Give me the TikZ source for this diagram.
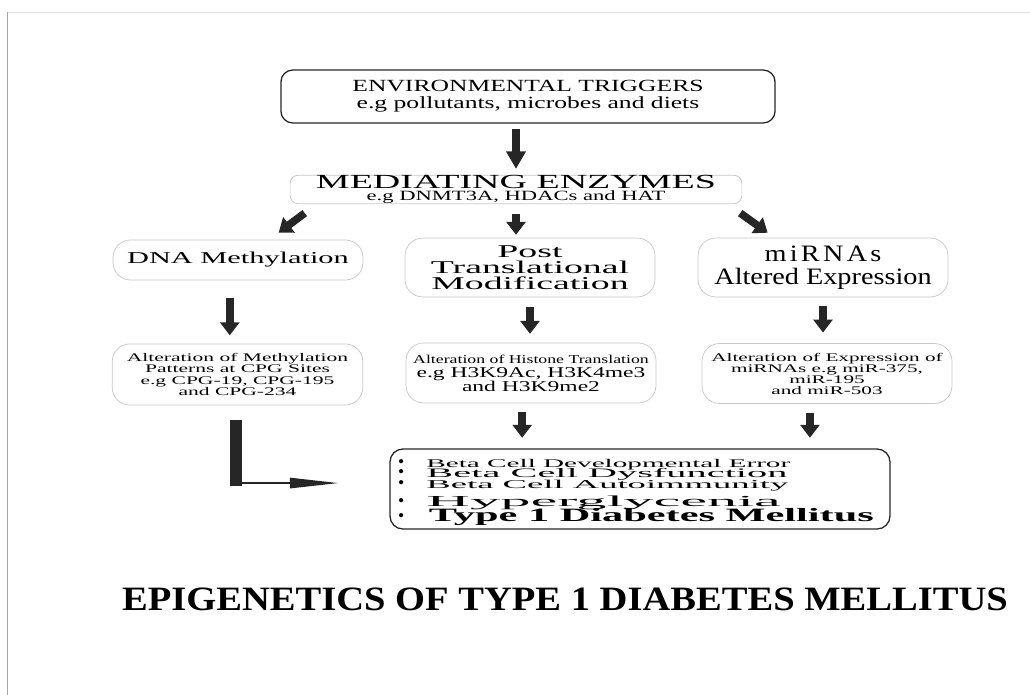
\documentclass[tikz,border=0pt]{standalone}
\usepackage{fontspec}
\setmainfont{Liberation Serif}
\usetikzlibrary{arrows.meta}
\newcommand{\wider}[1]{\addfontfeatures{FakeStretch=#1}}
\newcommand{\itemdot}{\makebox[24pt][l]{\fontsize{15}{10}\selectfont\mdseries\textbullet}}

\tikzset{
    softbox/.style={draw=black!22, line width=0.6pt, rounded corners=15pt, inner sep=0pt, align=center},
    hardbox/.style={draw=black!85, line width=1.1pt, rounded corners=10pt, inner sep=0pt, align=center},
    fatarrow/.style={draw=black!85, line width=6.5pt, -{Triangle[width=16pt,length=11pt]}},
    bullitem/.style={anchor=base west, inner sep=0pt},
}

\begin{document}
\begin{tikzpicture}[x=0.85pt, y=-0.85pt]
    \useasboundingbox (0,0) rectangle (1030,695);
    % page edge
    \draw[black!12, line width=0.6pt] (7,12) -- (1030,12);
    \draw[black!35, line width=0.8pt] (7,695) -- (7,12);

    % boxes
    \node[hardbox, minimum width=420pt, minimum height=45pt, font=\fontsize{14.5}{14.5}\selectfont\wider{1.5}] (env) at (528,96.5)
        {ENVIRONMENTAL TRIGGERS\\e.g pollutants, microbes and diets};
    \node[softbox, minimum width=384pt, minimum height=23.8pt, rounded corners=7pt, font=\fontsize{12}{10.5}\selectfont\wider{1.6}] (enzymes) at (516,189.5)
        {{\fontsize{17}{17}\selectfont\wider{1.9}MEDIATING ENZYMES}\\e.g DNMT3A, HDACs and HAT};
    \node[softbox, minimum width=212.5pt, minimum height=34pt, font=\fontsize{14.1}{15}\selectfont\wider{1.83}] (dna) at (238,260)
        {DNA Methylation};
    \node[softbox, minimum width=212.5pt, minimum height=50pt, font=\fontsize{15.3}{13.6}\selectfont\wider{2.1}] (ptm) at (530,267.5)
        {Post\\Translational\\Modification};
    \node[softbox, minimum width=212.5pt, minimum height=50pt, font=\fontsize{20}{19.5}\selectfont\wider{1.2}] (mirna) at (823,267.5)
        {{\addfontfeatures{LetterSpace=14}miRNAs}\\Altered Expression};
    \node[softbox, minimum width=213pt, minimum height=52pt, font=\fontsize{9.9}{9.6}\selectfont\wider{1.85}] (cpg) at (237.5,374.5)
        {Alteration of Methylation\\Patterns at CPG Sites\\e.g CPG-19, CPG-195\\and CPG-234};
    \node[softbox, minimum width=212.5pt, minimum height=51pt, font=\fontsize{12.75}{11.8}\selectfont\wider{1.57}] (histone) at (531,373)
        {{\fontsize{10.2}{11.8}\selectfont\wider{1.48}Alteration of Histone Translation}\\e.g H3K9Ac, H3K4me3\\and H3K9me2};
    \node[softbox, minimum width=212.5pt, minimum height=51pt, font=\fontsize{9.9}{9.35}\selectfont\wider{1.82}] (expression) at (827,373.5)
        {Alteration of Expression of\\miRNAs e.g miR-375,\\miR-195\\and miR-503};
    \node[hardbox, minimum width=425pt, minimum height=68pt, rounded corners=11pt] (summary) at (640,489) {};

    % summary lines
    \node[bullitem, font=\fontsize{10}{10}\selectfont] (itemA) at (398,467)
        {\itemdot{\wider{2.48}Beta Cell Developmental Error}};
    \node[bullitem, font=\fontsize{11}{11}\selectfont] (itemB) at (398,477.5)
        {\itemdot{\wider{3.12}Beta Cell Dysfunction}};
    \node[bullitem, font=\fontsize{10.2}{10.2}\selectfont] (itemC) at (398,488)
        {\itemdot{\wider{3.05}Beta Cell Autoimmunity}};
    \node[bullitem, font=\fontsize{13}{13}\selectfont] (itemD) at (398,506)
        {\itemdot{\wider{3.95}Hyperglycenia}};
    \node[bullitem, font=\fontsize{16}{16}\selectfont\bfseries] (itemE) at (398,521.5)
        {\makebox[26pt][l]{\fontsize{15}{10}\selectfont\mdseries\textbullet}{\wider{2.25}Type 1 Diabetes Mellitus}};

    % title
    \node[font=\fontsize{29}{29}\selectfont\bfseries\wider{1.13}] (title) at (565,599)
        {EPIGENETICS OF TYPE 1 DIABETES MELLITUS};

    % arrows
    \draw[fatarrow, -{Triangle[width=16pt,length=15pt]}, shorten <=4.5pt, shorten >=5pt]
        (env.south -| enzymes.north) -- (enzymes.north);
    \draw[fatarrow] ([xshift=12.75pt,yshift=-7.6pt]enzymes.south west) -- ([xshift=-72pt,yshift=6pt]dna.north east);
    \draw[fatarrow, shorten <=8.5pt, shorten >=2.5pt] (enzymes.south) -- (enzymes.south |- ptm.north);
    \draw[fatarrow] ([xshift=-1.7pt,yshift=-7.6pt]enzymes.south east) -- ([xshift=59.5pt,yshift=4.25pt]mirna.north west);
    \foreach \up/\down/\dx/\gapa/\gapb in {dna/cpg/-7pt/15pt/7pt, ptm/histone/0pt/8.5pt/7.5pt, mirna/expression/0pt/7pt/9pt} {
        \draw[fatarrow, shorten <=\gapa, shorten >=\gapb] ([xshift=\dx]\up.south) -- ([xshift=\dx]\up.south |- \down.north);
    }
    \draw[fatarrow, shorten <=7.5pt, shorten >=9pt] ([xshift=-7.5pt]histone.south) -- ([xshift=-7.5pt]histone.south |- summary.north);
    \draw[fatarrow, shorten <=7.5pt, shorten >=9pt] ([xshift=-14.5pt]expression.south) -- ([xshift=-14.5pt]expression.south |- summary.north);

    % L-shaped link
    \coordinate (lbend) at (236,486);
    \draw[black!85, line width=10pt] ([yshift=-12pt]cpg.south -| lbend) -- (lbend);
    \draw[black!85, line width=2.4pt, -{Triangle[width=8.5pt,length=42pt]}, shorten >=42.5pt]
        ([xshift=5pt,yshift=2.5pt]lbend) -- ([yshift=2.5pt]lbend -| summary.west);
\end{tikzpicture}
\end{document}
